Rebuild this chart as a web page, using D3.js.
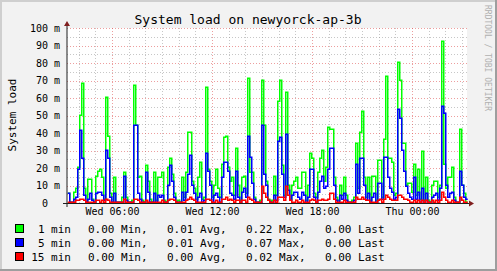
<!DOCTYPE html>
<html>
<head>
<meta charset="utf-8">
<script src="https://cdn.jsdelivr.net/npm/d3@7"></script>
<style>
   body { margin: 0; background: #f2f2f2; }
   svg text { font-family: "DejaVu Sans Mono", monospace; white-space: pre; }
</style>
</head>
<body>
<svg id="graph" width="497" height="271"></svg>
<script>
// chart values (load in milli units, one sample = 7.2 min)
var titleText = "System load on newyorck-ap-3b";
var unitText = "System load";
var watermarkText = "RRDTOOL / TOBI OETIKER";
var startTime = Date.UTC(2024, 0, 3, 3, 18);   // Wed 03:18
var stepMs = 432000;
var yTicks = [0, 10, 20, 30, 40, 50, 60, 70, 80, 90, 100];
var labelTimes = [Date.UTC(2024, 0, 3, 6), Date.UTC(2024, 0, 3, 12), Date.UTC(2024, 0, 3, 18), Date.UTC(2024, 0, 4, 0)];

var load1 = [
   5,0,0,6,8,20,50,68,8,0,13,13,2,0,15,18,19,14,2,60,
   38,5,0,14,0,0,0,3,17,3,0,0,1,67,44,14,15,1,0,21,
   12,2,0,17,1,14,14,17,1,0,20,25,16,5,0,1,0,14,3,17,
   40,40,12,8,2,14,23,2,3,66,19,12,3,10,19,8,3,22,37,38,
   20,12,14,4,31,10,1,14,15,5,71,17,17,3,0,0,1,70,44,12,
   2,0,1,15,4,58,70,21,4,63,10,2,10,12,14,8,8,17,17,1,
   10,28,25,5,3,17,25,30,12,20,43,42,42,14,3,1,10,4,14,4,
   0,0,1,3,34,8,40,52,14,3,14,1,15,15,1,24,24,3,36,72,
   25,25,23,4,5,80,70,34,34,10,11,11,6,22,4,19,2,29,1,14,
   1,0,10,12,12,3,10,92,22,8,14,14,20,3,0,0,42,10,5,0
];
var load5 = [
   5,0,0,2,3,19,41,25,4,0,2,5,1,0,5,6,6,4,1,30,
   25,3,0,5,0,0,0,0,15,1,0,0,0,44,44,5,2,0,0,17,
   6,0,0,5,0,4,3,4,0,0,10,21,12,3,0,0,0,6,1,6,
   16,27,10,5,0,3,5,0,1,28,18,10,0,4,5,3,0,14,23,23,
   18,5,4,2,18,3,0,6,8,3,38,26,11,2,0,0,0,44,16,10,
   1,0,0,4,1,35,37,16,3,39,7,1,4,6,6,3,2,6,4,0,
   3,19,19,3,0,6,12,15,8,9,19,31,31,10,1,0,4,2,5,1,
   0,0,0,1,22,5,25,25,10,1,5,0,3,5,0,11,11,2,26,26,
   14,8,6,2,3,53,48,30,18,9,5,3,2,14,2,6,0,8,0,5,
   0,0,3,4,5,1,8,55,51,10,3,5,6,1,0,0,18,10,3,2
];
var load15 = [
   0,0,0,0,1,1,2,2,1,0,0,0,0,0,1,1,0,1,0,2,
   1,0,0,0,0,0,0,0,2,0,0,0,0,2,2,1,0,0,0,1,
   0,0,0,0,0,0,0,1,0,0,1,2,2,1,0,0,0,0,0,1,
   2,3,2,1,0,0,0,0,0,2,2,1,0,0,1,0,0,2,2,3,
   1,2,1,0,1,1,0,1,1,0,3,2,1,0,0,0,0,9,5,3,
   1,0,0,1,0,3,3,3,1,9,4,1,0,0,1,0,0,1,0,0,
   0,1,2,1,0,1,1,2,1,1,2,5,5,2,0,0,0,0,1,0,
   0,0,0,0,3,2,2,3,2,1,1,0,0,0,0,1,2,0,2,4,
   3,2,1,1,1,4,4,3,2,2,1,0,0,1,0,1,0,1,0,1,
   0,0,1,0,1,0,1,6,3,1,0,0,1,0,0,0,3,1,0,0
];

var seriesNames = ["1 min", "5 min", "15 min"];
var seriesColors = ["#00ff00", "#0000ff", "#ff0000"];
var statMin = ["0.00", "0.00", "0.00"];
var statAvg = ["0.01", "0.01", "0.00"];
var statMax = ["0.22", "0.07", "0.02"];
var statLast = ["0.00", "0.00", "0.00"];

var W = 497, H = 271;
var plotLeft = 67, plotRight = 467, plotTop = 28, plotBottom = 203;
var endTime = startTime + load1.length * stepMs;

var svg = d3.select("#graph");

var x = d3.scaleUtc().domain([startTime, endTime]).range([plotLeft, plotRight]);
var y = d3.scaleLinear().domain([0, 100]).range([plotBottom, plotTop]);

// background and shaded border
svg.append("rect").attr("width", W).attr("height", H).attr("fill", "#f2f2f2");
svg.append("path").attr("d", "M0,1H" + (W - 1) + "M1,0V" + (H - 1))
   .attr("stroke", "#cfcfcf").attr("stroke-width", 2).attr("fill", "none");
svg.append("path").attr("d", "M" + (W - 1) + ",0V" + H + "M0," + (H - 1) + "H" + W)
   .attr("stroke", "#9e9e9e").attr("stroke-width", 2).attr("fill", "none");

// canvas
svg.append("rect")
   .attr("x", plotLeft).attr("y", plotTop)
   .attr("width", plotRight - plotLeft).attr("height", plotBottom - plotTop)
   .attr("fill", "#ffffff");

// grid lines
var minorY = d3.range(5, 100, 10);
var majorY = yTicks.filter(function(d){ return d > 0; });
var hours = d3.utcHour.range(startTime, endTime);
var minorX = hours.filter(function(d){ return d.getUTCHours() % 6 != 0; });
var majorX = hours.filter(function(d){ return d.getUTCHours() % 6 == 0; });

function hGrid(vals, color){
   svg.append("g").selectAll("line")
      .data(vals)
      .enter()
      .append("line")
      .attr("x1", plotLeft).attr("x2", plotRight)
      .attr("y1", function(d){ return Math.round(y(d)) + 0.5; })
      .attr("y2", function(d){ return Math.round(y(d)) + 0.5; })
      .attr("stroke", color).attr("stroke-dasharray", "1,2");
}
function vGrid(vals, color){
   svg.append("g").selectAll("line")
      .data(vals)
      .enter()
      .append("line")
      .attr("x1", function(d){ return Math.round(x(d)) + 0.5; })
      .attr("x2", function(d){ return Math.round(x(d)) + 0.5; })
      .attr("y1", plotTop).attr("y2", plotBottom)
      .attr("stroke", color).attr("stroke-dasharray", "1,2");
}
hGrid(minorY, "rgba(143,143,143,0.5)");
vGrid(minorX, "rgba(143,143,143,0.5)");
hGrid(majorY, "rgba(222,79,79,0.55)");
vGrid(majorX, "rgba(222,79,79,0.55)");

// step lines for each series, a bit wider so single samples read as bars
var line = d3.line()
   .x(function(d){ return Math.round(x(d.t)) + 0.75; })
   .y(function(d){ return Math.round(y(d.v)) - 0.75; })
   .curve(d3.curveStepAfter);

[load1, load5, load15].forEach(function(series, k){
   var pts = series.map(function(v, i){ return {t: startTime + i * stepMs, v: v}; });
   pts.push({t: endTime, v: series[series.length - 1]});
   svg.append("path")
      .datum(pts)
      .attr("d", line)
      .attr("fill", "none")
      .attr("stroke", seriesColors[k])
      .attr("stroke-width", 1.5);
});

// axes lines and arrows
svg.append("line").attr("x1", plotLeft - 4).attr("x2", plotRight + 4)
   .attr("y1", plotBottom + 0.5).attr("y2", plotBottom + 0.5).attr("stroke", "#1f1f1f");
svg.append("line").attr("x1", plotLeft).attr("x2", plotLeft)
   .attr("y1", plotBottom + 4).attr("y2", plotTop - 4).attr("stroke", "#1f1f1f");
svg.append("path")
   .attr("d", "M" + (plotRight + 7) + "," + (plotBottom + 0.5) + "l-5,-3v6z")
   .attr("fill", "#801f1f");
svg.append("path")
   .attr("d", "M" + plotLeft + "," + (plotTop - 7) + "l-3,5h6z")
   .attr("fill", "#801f1f");

// y labels
var yAxis = d3.axisLeft(y)
   .tickValues(yTicks)
   .tickSize(0)
   .tickPadding(0)
   .tickFormat(function(d){ return d == 0 ? "0  " : d + " m"; });
var gy = svg.append("g").attr("transform", "translate(60,0)").call(yAxis);
gy.select(".domain").remove();
gy.selectAll("text")
   .attr("xml:space", "preserve")
   .attr("font-family", "DejaVu Sans Mono")
   .attr("font-size", 10)
   .attr("fill", "#000");

// x labels
var xAxis = d3.axisBottom(x)
   .tickValues(labelTimes)
   .tickSize(0)
   .tickPadding(0)
   .tickFormat(d3.utcFormat("%a %H:%M"));
var gx = svg.append("g").attr("transform", "translate(0,208)").call(xAxis);
gx.select(".domain").remove();
gx.selectAll("text")
   .attr("font-family", "DejaVu Sans Mono")
   .attr("font-size", 10)
   .attr("fill", "#000");

// title, unit and watermark
svg.append("text")
   .attr("x", 248).attr("y", 24)
   .attr("text-anchor", "middle")
   .attr("font-size", 13)
   .text(titleText);
svg.append("text")
   .attr("transform", "translate(16,115) rotate(-90)")
   .attr("text-anchor", "middle")
   .attr("font-size", 11)
   .text(unitText);
svg.append("text")
   .attr("transform", "translate(485,5) rotate(90)")
   .attr("font-size", 8)
   .attr("fill", "#b0b0b0")
   .text(watermarkText);

// legend
var legend = svg.append("g");
seriesNames.forEach(function(name, k){
   var base = 232.5 + k * 14;
   legend.append("rect")
      .attr("x", 15.5).attr("y", base - 8)
      .attr("width", 8).attr("height", 8)
      .attr("fill", seriesColors[k]).attr("stroke", "#000");
   legend.append("text").attr("x", 71).attr("y", base).attr("text-anchor", "end")
      .attr("font-size", 11).text(name);
   legend.append("text").attr("x", 88).attr("y", base).attr("font-size", 11).text(statMin[k] + " Min,");
   legend.append("text").attr("x", 167).attr("y", base).attr("font-size", 11).text(statAvg[k] + " Avg,");
   legend.append("text").attr("x", 246).attr("y", base).attr("font-size", 11).text(statMax[k] + " Max,");
   legend.append("text").attr("x", 325).attr("y", base).attr("font-size", 11).text(statLast[k] + " Last");
});
</script>
</body>
</html>
